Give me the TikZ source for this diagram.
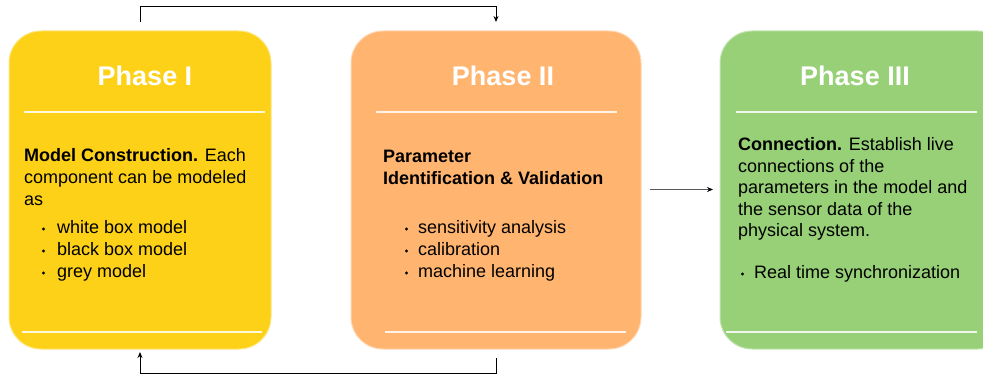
\documentclass[tikz,border=0pt]{standalone}
\usepackage{fontspec}
\setmainfont{Liberation Sans}
\usetikzlibrary{arrows.meta}
\definecolor{cyellow}{HTML}{FDD118}
\definecolor{corange}{HTML}{FFB570}
\definecolor{cgreen}{HTML}{97D077}
\begin{document}
\begin{tikzpicture}[x=1pt,y=-1pt,
  phasebox/.style={rounded corners=32pt,inner sep=0pt,line width=1pt},
  ttl/.style={anchor=base,inner sep=0pt,text=white,font=\fontsize{27}{30}\selectfont\bfseries},
  txt/.style={anchor=base west,inner sep=0pt,font=\fontsize{18}{22}\selectfont},
  sep/.style={draw=white,line width=1.5pt,opacity=0.85},
  conn/.style={line width=1pt,-{Stealth[length=6pt,width=5pt]}},
  dot/.style={fill=black}
]
\useasboundingbox (0,0) rectangle (983,374);
\clip (0,0) rectangle (983,374);
% boxes
\path[phasebox,fill=cyellow,draw=cyellow!55!white] (9,31) rectangle (271,349);
\node[inner sep=0pt,minimum width=262pt,minimum height=318pt] (p1) at (140,190) {};
\path[phasebox,fill=corange,draw=corange!55!white] (351,31) rectangle (641,349);
\node[inner sep=0pt,minimum width=290pt,minimum height=318pt] (p2) at (496,190) {};
\path[phasebox,fill=cgreen,draw=cgreen!55!white] (720,31) rectangle (1010,349);
\node[inner sep=0pt,minimum width=290pt,minimum height=318pt] (p3) at (865,190) {};
% separators
\draw[sep] (24,112) -- (265,112);
\draw[sep] (22,332) -- (262,332);
\draw[sep] (376,112) -- (617,112);
\draw[sep] (385,332) -- (626,332);
\draw[sep] (736,112) -- (977,112);
\draw[sep] (726,332) -- (977,332);
% titles
\node[ttl] (t1) at (145,86) {Phase I};
\node[ttl] (t2) at (503,86) {Phase II};
\node[ttl] (t3) at (855,86) {Phase III};
% box 1 text
\node[txt] (a1) at (24,162) {\textbf{Model Construction.} Each};
\node[txt] (a2) at (24,184) {component can be modeled};
\node[txt] (a3) at (24,206) {as};
\node[txt] (a4) at (57,234) {white box model};
\node[txt] (a5) at (57,256) {black box model};
\node[txt] (a6) at (57,278) {grey model};
\fill[dot] (43.5,229) circle (1.6pt);
\fill[dot] (43.5,251) circle (1.6pt);
\fill[dot] (43.5,273) circle (1.6pt);
% box 2 text
\node[txt] (b1) at (383,163) {\textbf{Parameter}};
\node[txt] (b2) at (383,185) {\textbf{Identification \& Validation}};
\node[txt] (b3) at (418,234) {sensitivity analysis};
\node[txt] (b4) at (418,256) {calibration};
\node[txt] (b5) at (418,278) {machine learning};
\fill[dot] (406.5,229) circle (1.6pt);
\fill[dot] (406.5,251) circle (1.6pt);
\fill[dot] (406.5,273) circle (1.6pt);
% box 3 text
\node[txt] (c1) at (738,151) {\textbf{Connection.} Establish live};
\node[txt] (c2) at (738,172.5) {connections of the};
\node[txt] (c3) at (738,194) {parameters in the model and};
\node[txt] (c4) at (738,215.5) {the sensor data of the};
\node[txt] (c5) at (738,237) {physical system.};
\node[txt] (c6) at (754,279) {Real time synchronization};
\fill[dot] (742.5,274) circle (1.6pt);
% connectors
\coordinate (s1) at (140,22);
\coordinate (e1) at (496,22);
\draw[conn] (s1) -- (140,7) -| (e1);
\coordinate (s2) at (496,358);
\coordinate (e2) at (140,352);
\draw[conn] (s2) -- (496,373) -| (e2);
\coordinate (s3) at (650,189.5);
\coordinate (e3) at (713,189.5);
\draw[line width=1pt,draw=black!65,-{Stealth[length=6pt,width=5pt,color=black]}] (s3) -- (e3);
\end{tikzpicture}
\end{document}
